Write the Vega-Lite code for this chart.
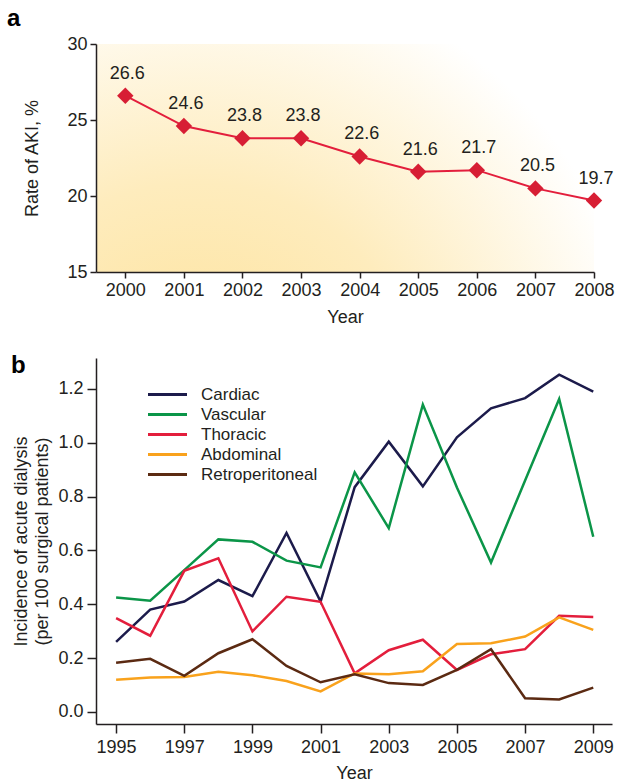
{
  "$schema": "https://vega.github.io/schema/vega-lite/v6.json",
  "background": "white",
  "padding": {"left": 6, "top": 7, "right": 0, "bottom": 0},
  "resolve": {"legend": {"color": "independent"}},
  "bounds": "flush",
  "spacing": 86,
  "config": {
    "font": "Liberation Sans",
    "axis": {"labelFont": "Liberation Sans", "labelFontSize": 18, "labelColor": "#231F20", "titleFont": "Liberation Sans", "titleFontSize": 18, "titleFontWeight": "normal", "titleColor": "#231F20", "domainColor": "#231F20", "domainWidth": 1.5, "tickColor": "#231F20", "tickWidth": 1.5, "tickSize": 6, "grid": false, "labelPadding": 3, "labelOverlap": false, "labelFlush": false},
    "view": {"stroke": null},
    "title": {"fontSize": 24, "fontWeight": "bold", "anchor": "start", "frame": "bounds", "color": "#000000", "font": "Liberation Sans"}
  },
  "vconcat": [
    {
      "width": 498,
      "height": 228,
      "title": {"text": "a", "offset": 4, "dx": -17},
      "view": {"stroke": null, "fill": {"gradient": "radial", "x1": 0.2, "y1": 1, "r1": 0, "x2": 0.2, "y2": 1, "r2": 0.9, "stops": [{"offset": 0, "color": "#FDE197"}, {"offset": 0.5, "color": "#FEECBD"}, {"offset": 1, "color": "#FFFFFF"}]}},
      "data": {"values": [
        {"year": 2000, "rate": 26.6},
        {"year": 2001, "rate": 24.6},
        {"year": 2002, "rate": 23.8},
        {"year": 2003, "rate": 23.8},
        {"year": 2004, "rate": 22.6},
        {"year": 2005, "rate": 21.6},
        {"year": 2006, "rate": 21.7},
        {"year": 2007, "rate": 20.5},
        {"year": 2008, "rate": 19.7}
      ]},
      "encoding": {
        "x": {"field": "year", "type": "quantitative", "scale": {"domain": [1999.5, 2008], "nice": false, "zero": false}, "axis": {"values": [2000, 2001, 2002, 2003, 2004, 2005, 2006, 2007, 2008], "format": "d", "title": "Year", "titlePadding": 9}},
        "y": {"field": "rate", "type": "quantitative", "scale": {"domain": [15, 30], "nice": false, "zero": false}, "axis": {"values": [15, 20, 25, 30], "title": "Rate of AKI, %", "titlePadding": 25}}
      },
      "layer": [
        {"mark": {"type": "line", "color": "#E31E3C", "strokeWidth": 2}},
        {"mark": {"type": "point", "shape": "diamond", "filled": true, "size": 270, "color": "#D71E34", "opacity": 1}},
        {"mark": {"type": "text", "dy": -22, "dx": 2, "fontSize": 18, "font": "Liberation Sans", "color": "#231F20"}, "encoding": {"text": {"field": "rate", "type": "quantitative", "format": ".1f"}}}
      ]
    },
    {
      "width": 516,
      "height": 366,
      "title": {"text": "b", "offset": -20, "dx": -2},
      "data": {"values": [
        {"year": 1995, "type": "Cardiac", "v": 0.26},
        {"year": 1996, "type": "Cardiac", "v": 0.38},
        {"year": 1997, "type": "Cardiac", "v": 0.41},
        {"year": 1998, "type": "Cardiac", "v": 0.49},
        {"year": 1999, "type": "Cardiac", "v": 0.43},
        {"year": 2000, "type": "Cardiac", "v": 0.665},
        {"year": 2001, "type": "Cardiac", "v": 0.41},
        {"year": 2002, "type": "Cardiac", "v": 0.835},
        {"year": 2003, "type": "Cardiac", "v": 1.004},
        {"year": 2004, "type": "Cardiac", "v": 0.838},
        {"year": 2005, "type": "Cardiac", "v": 1.02},
        {"year": 2006, "type": "Cardiac", "v": 1.128},
        {"year": 2007, "type": "Cardiac", "v": 1.166},
        {"year": 2008, "type": "Cardiac", "v": 1.253},
        {"year": 2009, "type": "Cardiac", "v": 1.19},
        {"year": 1995, "type": "Vascular", "v": 0.425},
        {"year": 1996, "type": "Vascular", "v": 0.413},
        {"year": 1997, "type": "Vascular", "v": 0.527},
        {"year": 1998, "type": "Vascular", "v": 0.641},
        {"year": 1999, "type": "Vascular", "v": 0.632},
        {"year": 2000, "type": "Vascular", "v": 0.562},
        {"year": 2001, "type": "Vascular", "v": 0.537},
        {"year": 2002, "type": "Vascular", "v": 0.89},
        {"year": 2003, "type": "Vascular", "v": 0.683},
        {"year": 2004, "type": "Vascular", "v": 1.142},
        {"year": 2005, "type": "Vascular", "v": 0.834},
        {"year": 2006, "type": "Vascular", "v": 0.555},
        {"year": 2007, "type": "Vascular", "v": 0.86},
        {"year": 2008, "type": "Vascular", "v": 1.163},
        {"year": 2009, "type": "Vascular", "v": 0.651},
        {"year": 1995, "type": "Thoracic", "v": 0.348},
        {"year": 1996, "type": "Thoracic", "v": 0.283},
        {"year": 1997, "type": "Thoracic", "v": 0.524},
        {"year": 1998, "type": "Thoracic", "v": 0.571},
        {"year": 1999, "type": "Thoracic", "v": 0.299},
        {"year": 2000, "type": "Thoracic", "v": 0.428},
        {"year": 2001, "type": "Thoracic", "v": 0.409},
        {"year": 2002, "type": "Thoracic", "v": 0.143},
        {"year": 2003, "type": "Thoracic", "v": 0.229},
        {"year": 2004, "type": "Thoracic", "v": 0.268},
        {"year": 2005, "type": "Thoracic", "v": 0.156},
        {"year": 2006, "type": "Thoracic", "v": 0.214},
        {"year": 2007, "type": "Thoracic", "v": 0.233},
        {"year": 2008, "type": "Thoracic", "v": 0.357},
        {"year": 2009, "type": "Thoracic", "v": 0.353},
        {"year": 1995, "type": "Abdominal", "v": 0.119},
        {"year": 1996, "type": "Abdominal", "v": 0.128},
        {"year": 1997, "type": "Abdominal", "v": 0.13},
        {"year": 1998, "type": "Abdominal", "v": 0.149},
        {"year": 1999, "type": "Abdominal", "v": 0.136},
        {"year": 2000, "type": "Abdominal", "v": 0.115},
        {"year": 2001, "type": "Abdominal", "v": 0.076},
        {"year": 2002, "type": "Abdominal", "v": 0.143},
        {"year": 2003, "type": "Abdominal", "v": 0.14},
        {"year": 2004, "type": "Abdominal", "v": 0.151},
        {"year": 2005, "type": "Abdominal", "v": 0.252},
        {"year": 2006, "type": "Abdominal", "v": 0.255},
        {"year": 2007, "type": "Abdominal", "v": 0.28},
        {"year": 2008, "type": "Abdominal", "v": 0.351},
        {"year": 2009, "type": "Abdominal", "v": 0.305},
        {"year": 1995, "type": "Retroperitoneal", "v": 0.183},
        {"year": 1996, "type": "Retroperitoneal", "v": 0.197},
        {"year": 1997, "type": "Retroperitoneal", "v": 0.134},
        {"year": 1998, "type": "Retroperitoneal", "v": 0.218},
        {"year": 1999, "type": "Retroperitoneal", "v": 0.27},
        {"year": 2000, "type": "Retroperitoneal", "v": 0.171},
        {"year": 2001, "type": "Retroperitoneal", "v": 0.11},
        {"year": 2002, "type": "Retroperitoneal", "v": 0.14},
        {"year": 2003, "type": "Retroperitoneal", "v": 0.107},
        {"year": 2004, "type": "Retroperitoneal", "v": 0.1},
        {"year": 2005, "type": "Retroperitoneal", "v": 0.156},
        {"year": 2006, "type": "Retroperitoneal", "v": 0.233},
        {"year": 2007, "type": "Retroperitoneal", "v": 0.051},
        {"year": 2008, "type": "Retroperitoneal", "v": 0.046},
        {"year": 2009, "type": "Retroperitoneal", "v": 0.09}
      ]},
      "mark": {"type": "line", "strokeWidth": 2.5},
      "encoding": {
        "x": {"field": "year", "type": "quantitative", "scale": {"domain": [1994.41, 2009.55], "nice": false, "zero": false}, "axis": {"values": [1995, 1997, 1999, 2001, 2003, 2005, 2007, 2009], "format": "d", "title": "Year", "tickSize": 9, "labelPadding": 5, "titlePadding": 8}},
        "y": {"field": "v", "type": "quantitative", "scale": {"domain": [-0.045, 1.315], "nice": false, "zero": false}, "axis": {"values": [0, 0.2, 0.4, 0.6, 0.8, 1.0, 1.2], "format": ".1f", "tickSize": 9, "labelPadding": 4, "title": ["Incidence of acute dialysis", "(per 100 surgical patients)"], "titleLineHeight": 21, "titlePadding": 6}},
        "color": {"field": "type", "type": "nominal", "sort": ["Cardiac", "Vascular", "Thoracic", "Abdominal", "Retroperitoneal"], "scale": {"domain": ["Cardiac", "Vascular", "Thoracic", "Abdominal", "Retroperitoneal"], "range": ["#1C1B4B", "#0B9548", "#E31E3C", "#F9A21C", "#5B2A12"]}, "legend": {"title": null, "orient": "none", "legendX": 63, "legendY": 28, "symbolType": "M-3.9,0H3.9", "symbolSize": 100, "symbolStrokeWidth": 3, "labelFontSize": 17, "labelFont": "Liberation Sans", "labelColor": "#231F20", "labelOffset": 25, "rowPadding": 2}}
      }
    }
  ]
}
